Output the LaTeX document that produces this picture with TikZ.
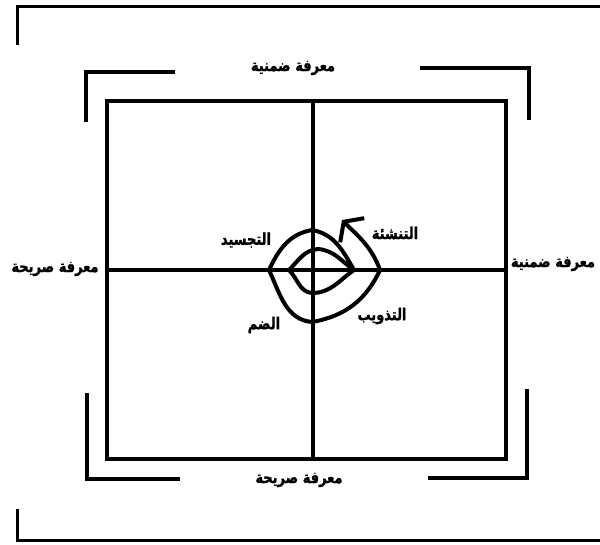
\documentclass[tikz,border=0pt]{standalone}
\usepackage{fontspec}
\newfontfamily\arabicfont[Script=Arabic,FakeBold=1.5]{DejaVu Sans Bold}
\TeXXeTstate=1
\usetikzlibrary{arrows.meta}
\newcommand{\artext}[1]{\scalebox{1}[1.25]{\arabicfont\beginR #1\endR}}

\begin{document}
\begin{tikzpicture}[x=1pt,y=-1pt,line join=miter,
		heavy/.style={line width=4pt},
		lbl/.style={inner sep=0pt,font=\fontsize{13}{15}\selectfont}]
			\useasboundingbox (0,0) rectangle (600,544);
			\draw[line width=3pt] (17,45)--(17,6)--(600,6);
			\draw[line width=3pt] (17,509)--(17,540)--(600,540);
			\draw[heavy] (86,122)--(86,72)--(175,72);
			\draw[heavy] (420,68)--(529,68)--(529,120);
			\draw[heavy] (87,393)--(87,479)--(180,479);
			\draw[heavy] (428,478)--(527,478)--(527,389);
			\coordinate (tl) at (107,101);
			\coordinate (br) at (506,459);
			\coordinate (mt) at (313,101);
			\coordinate (mb) at (313,459);
			\coordinate (ml) at (107,270);
			\coordinate (mr) at (506,270);
			\draw[heavy] (tl) rectangle (br);
			\draw[heavy] (mt)--(mb);
			\draw[heavy] (ml)--(mr);
			\node[lbl] (top) at (293,68) {\artext{معرفة ضمنية}};
			\node[lbl] (bottom) at (299,480) {\artext{معرفة صريحة}};
			\node[lbl] (left) at (55,269) {\artext{معرفة صريحة}};
			\node[lbl] (right) at (553,264) {\artext{معرفة ضمنية}};
			\node[lbl] (ext) at (246,240) {\artext{التجسيد}};
			\node[lbl] (soc) at (395,233) {\artext{التنشئة}};
			\node[lbl] (com) at (264,325) {\artext{الضم}};
			\node[lbl] (int) at (382,316) {\artext{التذويب}};
			\draw[heavy,line cap=round,line join=round,-{Straight Barb[length=12pt,width=34pt]}]
				(354,270) to[out=145,in=-5] (318,249) to[out=185,in=45] (289,270)
				to[out=-45,in=175] (312,293) to[out=0,in=-145] (354,270)
				to[out=120,in=-10] (312,230) to[out=190,in=65] (269,270)
				to[out=-65,in=175] (312,322) to[out=10,in=-115] (380,270)
				to[out=110,in=-45] (342,220);
		\end{tikzpicture}
\end{document}
